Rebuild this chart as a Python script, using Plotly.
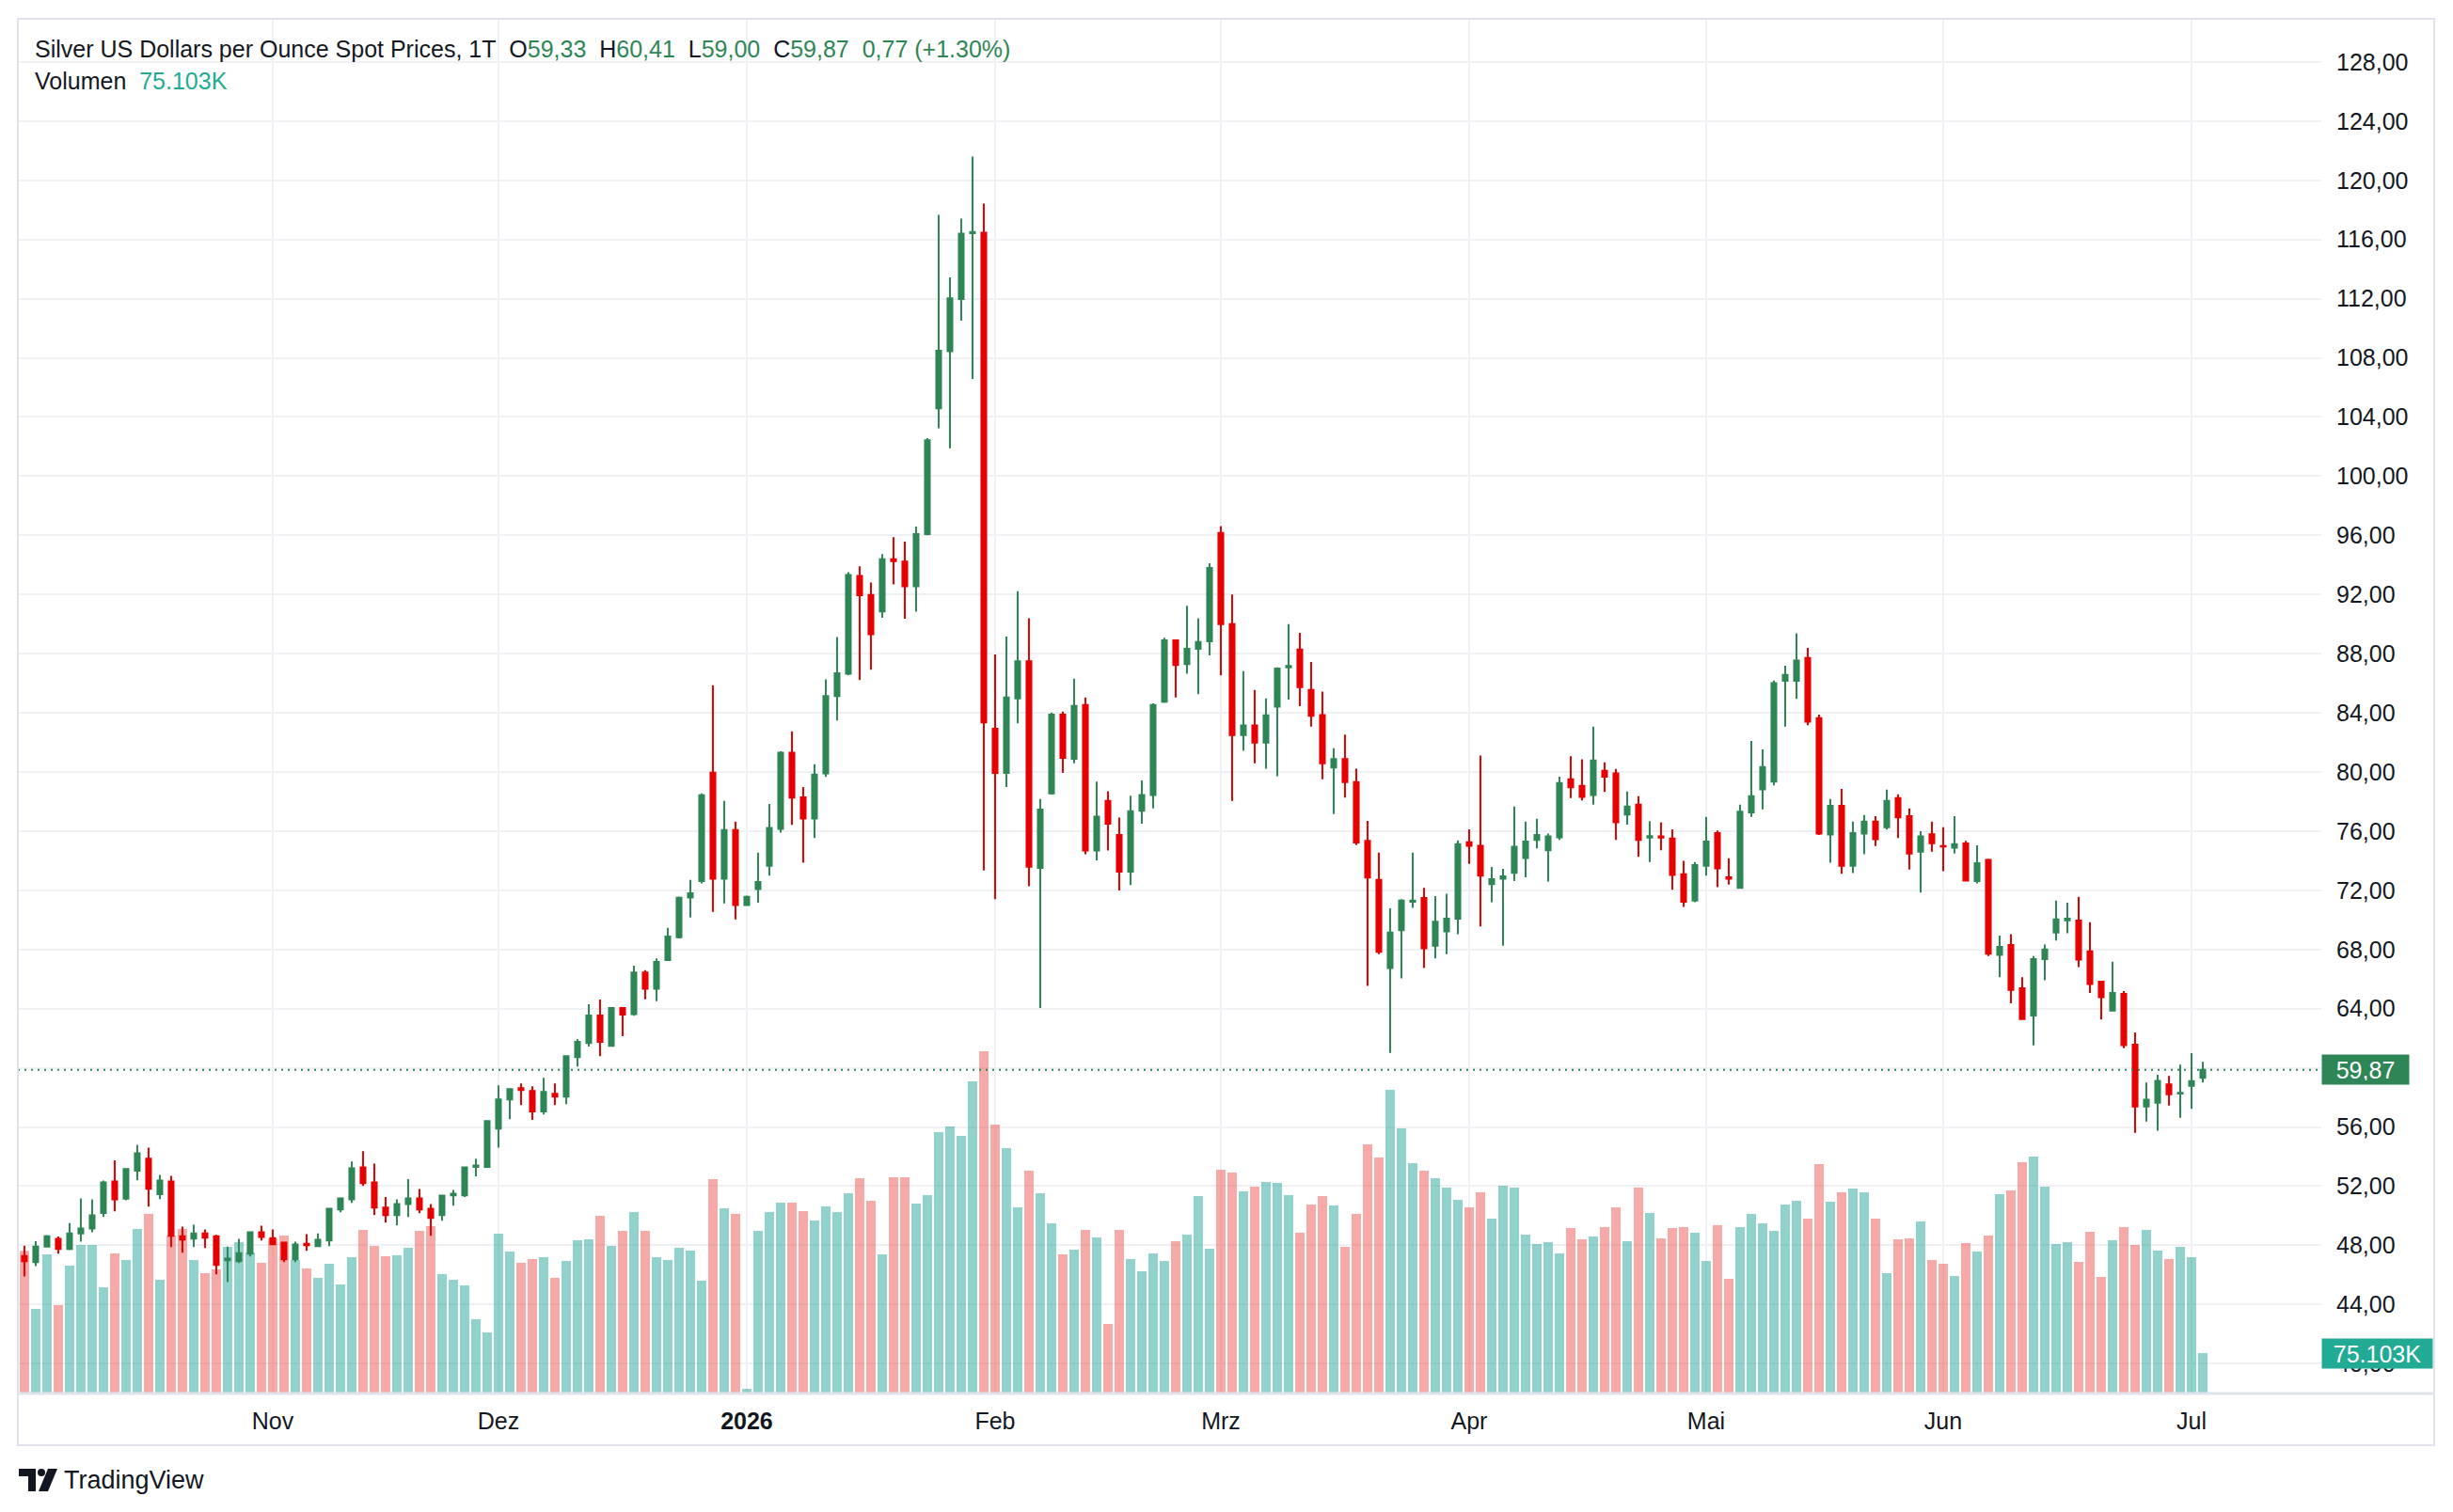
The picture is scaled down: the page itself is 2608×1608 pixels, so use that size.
import pandas as pd
import plotly.graph_objects as go

# ---------------- data ----------------
holidays = ["2025-12-25", "2026-04-03"]
dates = [d.strftime("%Y-%m-%d") for d in pd.bdate_range("2025-10-02", "2026-07-02")
         if d.strftime("%Y-%m-%d") not in holidays]

opens = [
    47.28, 46.86, 47.92, 48.43, 47.75, 48.81, 49.13, 50.19, 52.32, 51.15,
    53.04, 53.85, 51.45, 52.32, 48.62, 48.45, 48.81, 48.62, 46.99, 46.92,
    47.43, 48.88, 48.49, 48.18, 47.05, 48.11, 47.94, 48.32, 50.43, 51.11,
    53.27, 52.25, 50.55, 50.05, 50.79, 51.17, 50.47, 50.05, 51.38, 51.38,
    53.30, 53.30, 55.89, 57.86, 58.63, 58.43, 57.05, 58.24, 58.05, 60.73,
    61.68, 63.53, 61.49, 64.04, 63.63, 66.45, 65.34, 67.29, 68.82, 71.51,
    72.62, 79.95, 72.78, 76.08, 71.01, 72.08, 73.66, 76.16, 81.30, 78.29,
    76.86, 79.90, 85.14, 86.65, 93.25, 91.97, 90.86, 94.39, 94.22, 92.55,
    96.08, 104.58, 108.44, 111.98, 116.43, 116.46, 82.92, 79.93, 84.97, 87.48,
    73.52, 78.55, 83.87, 80.89, 84.53, 74.69, 78.04, 75.74, 73.26, 77.38,
    78.44, 84.75, 88.90, 87.30, 88.32, 88.83, 96.16, 90.00, 82.49, 83.14,
    81.98, 84.42, 87.08, 88.28, 85.55, 83.84, 80.30, 80.88, 79.31, 75.34,
    72.70, 66.75, 69.30, 71.22, 71.48, 68.26, 69.22, 70.08, 75.25, 75.01,
    72.42, 72.78, 73.19, 74.18, 75.40, 74.70, 75.58, 79.51, 79.06, 78.44,
    80.08, 79.90, 77.12, 77.79, 75.56, 75.64, 75.51, 73.09, 71.30, 73.66,
    75.87, 72.88, 72.16, 77.27, 78.83, 79.35, 86.16, 86.16, 87.71, 83.64,
    75.77, 77.71, 73.66, 75.84, 76.65, 76.26, 78.23, 77.01, 74.62, 75.79,
    75.00, 74.88, 75.17, 72.62, 74.05, 67.64, 68.31, 65.38, 63.53, 67.35,
    69.14, 69.97, 69.95, 67.87, 65.82, 63.87, 64.99, 61.56, 57.38, 57.64,
    58.88, 58.26, 58.78, 59.33,
]

highs = [
    47.98, 48.28, 48.69, 48.60, 49.51, 51.17, 51.11, 52.38, 53.74, 53.20,
    54.80, 54.61, 52.76, 52.70, 49.26, 49.39, 49.07, 48.70, 47.92, 48.43,
    48.94, 49.32, 49.07, 48.25, 48.24, 48.75, 48.81, 50.53, 51.20, 53.66,
    54.36, 53.53, 51.26, 51.11, 52.47, 51.81, 50.79, 51.40, 51.74, 53.34,
    53.85, 56.46, 58.82, 58.63, 58.94, 58.75, 59.33, 58.94, 60.85, 61.94,
    64.30, 64.62, 64.11, 64.11, 66.90, 66.61, 67.40, 69.46, 71.57, 72.70,
    78.55, 85.87, 78.05, 76.65, 71.64, 74.55, 77.84, 81.40, 82.75, 78.99,
    80.52, 86.26, 89.12, 93.51, 93.90, 92.81, 94.73, 95.87, 95.57, 96.59,
    102.57, 117.67, 113.44, 117.41, 121.60, 118.43, 87.95, 89.16, 92.22, 90.40,
    78.18, 84.02, 84.09, 86.31, 85.04, 79.35, 78.70, 76.91, 78.40, 79.42,
    84.64, 89.08, 88.95, 91.24, 90.40, 94.12, 96.63, 92.00, 86.82, 85.55,
    84.97, 87.08, 90.00, 89.41, 87.44, 85.44, 81.61, 82.52, 80.23, 76.70,
    74.55, 70.78, 71.40, 74.55, 72.16, 71.61, 71.77, 75.38, 76.13, 81.12,
    73.58, 73.45, 77.66, 76.65, 76.83, 75.84, 79.69, 81.06, 80.86, 83.06,
    80.65, 80.21, 78.68, 78.36, 76.68, 76.60, 76.13, 74.00, 73.92, 76.96,
    76.05, 74.16, 77.79, 82.10, 81.53, 86.18, 87.19, 89.38, 88.39, 83.87,
    78.18, 78.86, 76.65, 77.09, 77.01, 78.81, 78.49, 77.53, 76.00, 76.65,
    76.26, 77.01, 75.35, 75.04, 74.13, 68.94, 69.04, 66.13, 67.56, 68.34,
    71.30, 71.17, 71.56, 69.84, 65.85, 67.17, 65.19, 62.39, 59.01, 59.53,
    59.45, 60.21, 60.99, 60.41,
]

lows = [
    45.90, 46.60, 47.85, 47.43, 47.67, 48.24, 48.88, 49.92, 50.30, 51.05,
    52.40, 50.62, 51.13, 47.88, 47.50, 47.88, 47.82, 46.03, 45.52, 46.80,
    47.24, 48.32, 48.01, 46.86, 46.86, 47.62, 47.90, 47.94, 50.24, 50.87,
    52.02, 50.05, 49.54, 49.34, 49.92, 50.17, 48.64, 49.66, 50.68, 51.26,
    52.66, 53.25, 54.61, 56.52, 57.48, 56.48, 56.84, 57.48, 57.54, 60.09,
    61.43, 60.79, 61.45, 62.13, 63.52, 64.63, 64.50, 67.24, 68.75, 70.17,
    72.47, 70.55, 71.12, 70.03, 70.94, 71.17, 72.99, 75.90, 76.42, 73.87,
    75.53, 79.66, 83.48, 86.55, 86.21, 86.91, 90.42, 92.68, 90.36, 90.84,
    96.00, 103.23, 101.88, 110.52, 106.58, 73.34, 71.40, 78.99, 83.29, 72.28,
    64.05, 78.48, 79.93, 80.59, 74.43, 74.03, 74.69, 71.99, 72.35, 76.51,
    77.53, 84.67, 85.04, 86.64, 85.26, 87.88, 86.53, 78.04, 81.43, 80.59,
    80.23, 79.72, 84.90, 84.45, 83.07, 79.50, 77.16, 78.26, 75.05, 65.53,
    67.69, 61.01, 66.05, 70.81, 66.75, 67.40, 67.69, 69.04, 73.79, 69.56,
    71.20, 68.26, 72.62, 72.88, 74.83, 72.60, 75.40, 78.23, 78.08, 77.79,
    78.65, 75.40, 76.44, 74.26, 73.92, 74.70, 72.03, 70.88, 71.20, 72.99,
    72.21, 72.39, 72.10, 76.96, 77.48, 79.09, 83.06, 84.94, 83.17, 75.74,
    73.87, 73.12, 73.17, 74.44, 74.99, 76.10, 75.53, 73.40, 71.84, 74.62,
    73.30, 74.49, 72.60, 72.47, 67.56, 66.13, 64.36, 63.25, 61.51, 65.92,
    68.60, 69.09, 66.81, 65.06, 63.27, 63.80, 61.32, 55.61, 56.36, 55.74,
    57.45, 56.62, 57.22, 59.00,
]

closes = [
    46.92, 47.92, 48.62, 47.75, 48.81, 49.13, 50.02, 52.25, 51.11, 53.15,
    54.23, 51.83, 52.38, 48.64, 48.39, 48.81, 48.52, 46.67, 47.11, 47.47,
    48.88, 48.56, 48.07, 47.05, 48.05, 48.01, 48.37, 50.47, 51.17, 53.21,
    52.21, 50.55, 50.05, 50.79, 51.17, 50.43, 49.85, 51.36, 51.49, 53.27,
    53.40, 56.40, 57.86, 58.56, 58.50, 57.05, 58.37, 58.05, 60.79, 61.75,
    63.53, 61.75, 64.04, 63.60, 66.45, 65.34, 67.16, 68.88, 71.49, 71.80,
    78.42, 72.78, 76.08, 71.01, 71.56, 72.57, 76.21, 81.30, 78.26, 76.86,
    79.82, 85.14, 86.68, 93.32, 91.95, 89.32, 94.39, 94.26, 92.55, 96.08,
    102.43, 108.48, 112.02, 116.39, 116.50, 83.36, 79.93, 85.04, 87.48, 73.59,
    77.45, 83.87, 80.96, 84.46, 74.69, 76.98, 76.51, 73.26, 77.35, 78.44,
    84.53, 88.90, 87.23, 88.32, 88.79, 93.79, 90.00, 82.49, 83.14, 81.98,
    83.83, 87.00, 87.16, 85.73, 83.80, 80.59, 80.88, 79.31, 75.23, 72.86,
    67.85, 69.14, 71.30, 71.30, 68.08, 69.87, 70.08, 75.12, 75.01, 72.99,
    72.75, 72.94, 74.94, 75.30, 75.74, 75.64, 79.25, 78.96, 78.31, 80.78,
    79.69, 76.60, 77.66, 75.40, 75.66, 75.56, 73.04, 71.22, 73.71, 75.30,
    73.48, 72.78, 77.32, 78.36, 80.34, 86.00, 86.57, 87.53, 83.40, 75.84,
    77.71, 73.66, 75.87, 76.65, 75.45, 78.05, 76.94, 74.49, 75.64, 75.19,
    74.96, 75.12, 72.65, 73.84, 67.71, 68.18, 65.27, 63.30, 67.35, 68.00,
    70.03, 70.08, 67.32, 65.66, 64.78, 65.06, 61.53, 57.38, 57.84, 59.12,
    58.21, 58.31, 59.10, 59.87,
]

volumes_k = [
    265.0, 157.2, 258.5, 164.2, 237.5, 276.0, 276.0, 197.4, 260.2, 248.0,
    305.7, 333.6, 211.3, 293.4, 305.7, 248.0, 223.6, 230.6, 272.5, 281.2,
    262.0, 242.8, 288.2, 293.4, 248.0, 232.3, 214.8, 241.0, 202.6, 253.3,
    303.9, 274.2, 255.0, 256.8, 270.7, 302.2, 310.9, 221.8, 211.3, 200.9,
    138.0, 113.5, 296.9, 263.7, 242.8, 249.8, 253.3, 214.8, 246.3, 284.7,
    286.4, 330.1, 274.2, 302.2, 337.1, 302.2, 253.3, 248.0, 270.7, 265.5,
    209.6, 398.2, 344.1, 333.6, 8.7, 302.2, 337.1, 354.6, 354.6, 338.8,
    321.4, 347.6, 337.1, 372.0, 400.0, 358.1, 258.5, 401.7, 401.7, 352.8,
    368.5, 485.6, 496.0, 478.6, 579.9, 635.8, 499.5, 455.9, 345.8, 413.9,
    372.0, 316.1, 258.5, 267.2, 303.9, 289.9, 129.2, 303.9, 249.8, 227.1,
    260.2, 246.3, 283.0, 295.2, 366.8, 269.0, 415.7, 410.5, 375.5, 384.3,
    393.0, 391.2, 368.5, 298.7, 351.1, 366.8, 349.3, 272.5, 333.6, 462.8,
    438.4, 564.2, 492.5, 427.9, 413.9, 400.0, 382.5, 359.8, 345.8, 373.8,
    324.9, 386.0, 382.5, 295.2, 277.7, 281.2, 260.2, 307.4, 286.4, 291.7,
    309.1, 345.8, 283.0, 382.5, 335.3, 288.2, 307.4, 309.1, 298.7, 246.3,
    312.6, 213.1, 309.1, 333.6, 316.1, 302.2, 351.1, 358.1, 324.9, 426.2,
    356.3, 373.8, 380.8, 373.8, 324.9, 223.6, 286.4, 288.2, 319.6, 248.0,
    241.0, 218.3, 279.5, 263.7, 293.4, 370.3, 377.3, 429.7, 440.1, 384.3,
    277.7, 281.2, 244.5, 300.4, 216.6, 284.7, 309.1, 276.0, 303.9, 265.5,
    249.8, 272.5, 253.3, 75.103,
]

month_ticks = ["2025-11-03", "2025-12-01", "2026-01-01", "2026-02-02", "2026-03-02",
               "2026-04-01", "2026-05-01", "2026-06-01", "2026-07-01"]
month_labels = ["Nov", "Dez", "<b>2026</b>", "Feb", "Mrz", "Apr", "Mai", "Jun", "Jul"]
price_ticks = list(range(40, 129, 4))

title_text = "Silver US Dollars per Ounce Spot Prices, 1T"

# ---------------- style ----------------
UP = "#2e8656"
DOWN = "#e60000"
VOL_UP = "rgba(38,166,154,0.5)"
VOL_DOWN = "rgba(239,83,80,0.5)"
TEXT = "#131722"
GRID = "#f0f1f4"
BORDER = "#e0e3eb"
FONT = "Liberation Sans, Arial, sans-serif"

W, H = 2608, 1608
ML, MR, MT, MB = 19, 140, 20, 126
PW = W - ML - MR
PH = H - MT - MB


def px(x):
    return (x - ML) / PW


def py(y):
    return (H - MB - y) / PH


vol_colors = [VOL_UP if c >= o else VOL_DOWN for o, c in zip(opens, closes)]

fig = go.Figure()
fig.add_trace(go.Bar(x=dates, y=volumes_k, marker=dict(color=vol_colors, line=dict(width=0)),
                     yaxis="y", hoverinfo="skip", showlegend=False))
fig.add_trace(go.Candlestick(
    x=dates, open=opens, high=highs, low=lows, close=closes, yaxis="y2",
    increasing=dict(line=dict(color=UP, width=2), fillcolor=UP),
    decreasing=dict(line=dict(color=DOWN, width=2), fillcolor=DOWN),
    whiskerwidth=0, showlegend=False, hoverinfo="skip"))


def fmt(v):
    return f"{v:.2f}".replace(".", ",")


last_o, last_h, last_l, last_c = opens[-1], highs[-1], lows[-1], closes[-1]
chg = last_c - closes[-2]
pct = chg / closes[-2] * 100
G = UP
sp = "\u00a0\u00a0"
header = (f"{title_text}{sp}O<span style='color:{G}'>{fmt(last_o)}</span>{sp}"
          f"H<span style='color:{G}'>{fmt(last_h)}</span>{sp}"
          f"L<span style='color:{G}'>{fmt(last_l)}</span>{sp}"
          f"C<span style='color:{G}'>{fmt(last_c)}</span>{sp}"
          f"<span style='color:{G}'>{fmt(chg)} (+{pct:.2f}%)</span>")
vol_badge = f"{volumes_k[-1]:.3f}K"

annotations = [
    dict(x=px(35), y=py(52), xref="paper", yref="paper", xanchor="left", yanchor="middle",
         text=header, showarrow=False, font=dict(size=25, color=TEXT, family=FONT)),
    dict(x=px(35), y=py(86), xref="paper", yref="paper", xanchor="left", yanchor="middle",
         text=f"Volumen{sp}<span style='color:#22ab94'>{vol_badge}</span>", showarrow=False,
         font=dict(size=25, color=TEXT, family=FONT)),
    dict(x=1, y=last_c, xref="paper", yref="y2", xanchor="left", yanchor="middle",
         text=fmt(last_c), showarrow=False, bgcolor=UP, width=84, height=23, borderpad=4,
         align="center", font=dict(size=25, color="white", family=FONT)),
    dict(x=1, y=volumes_k[-1], xref="paper", yref="y", xanchor="left", yanchor="middle",
         text=vol_badge, showarrow=False, bgcolor="#22ab94", width=109, height=23, borderpad=4,
         align="center", font=dict(size=25, color="white", family=FONT)),
    dict(x=px(66), y=py(1574), xref="paper", yref="paper", xanchor="left", yanchor="middle",
         text="TradingView", showarrow=False, font=dict(size=27, color=TEXT, family=FONT)),
]

shapes = [
    # last price dotted line
    dict(type="line", xref="paper", yref="y2", x0=0, x1=1, y0=last_c, y1=last_c,
         line=dict(color=UP, width=2, dash="2px,5px"), layer="above"),
    # frame
    dict(type="rect", xref="paper", yref="paper", x0=px(19), x1=px(2588), y0=py(1537), y1=py(20),
         line=dict(color=BORDER, width=2), layer="above"),
    dict(type="line", xref="paper", yref="paper", x0=px(19), x1=px(2588), y0=py(1482), y1=py(1482),
         line=dict(color=BORDER, width=3), layer="above"),
    # logo
    dict(type="rect", xref="paper", yref="paper", x0=px(20), x1=px(38), y0=py(1570), y1=py(1562),
         fillcolor=TEXT, line=dict(width=0)),
    dict(type="rect", xref="paper", yref="paper", x0=px(30), x1=px(38), y0=py(1586), y1=py(1562),
         fillcolor=TEXT, line=dict(width=0)),
    dict(type="circle", xref="paper", yref="paper", x0=px(40), x1=px(48), y0=py(1570), y1=py(1562),
         fillcolor=TEXT, line=dict(width=0)),
    dict(type="path", xref="paper", yref="paper",
         path=f"M {px(51)} {py(1562)} L {px(61)} {py(1562)} L {px(51)} {py(1586)} L {px(41)} {py(1586)} Z",
         fillcolor=TEXT, line=dict(width=0)),
]

fig.update_layout(
    width=W, height=H, autosize=False,
    margin=dict(l=ML, r=MR, t=MT, b=MB),
    paper_bgcolor="white", plot_bgcolor="white",
    separators=",.",
    bargap=0.17, boxgap=0.4,
    showlegend=False,
    font=dict(family=FONT, color=TEXT),
    xaxis=dict(type="category", range=[-0.58, 203.5], tickmode="array", tickvals=month_ticks,
               ticktext=month_labels, showgrid=True, gridcolor=GRID, gridwidth=2,
               ticks="", showline=False, zeroline=False, tickfont=dict(size=25, color=TEXT),
               ticklabelstandoff=12, rangeslider=dict(visible=False), fixedrange=True),
    yaxis=dict(range=[0, 2553.5], visible=False, showgrid=False, zeroline=False, fixedrange=True),
    yaxis2=dict(overlaying="y", side="right", range=[37.98, 130.92], tickmode="array",
                tickvals=price_ticks, tickformat=".2f", showgrid=True, gridcolor=GRID, gridwidth=2,
                ticks="", showline=False, zeroline=False, tickfont=dict(size=25, color=TEXT),
                ticklabelstandoff=15, fixedrange=True),
    annotations=annotations,
    shapes=shapes,
)

fig.write_html("out.html", config={"displayModeBar": False})
